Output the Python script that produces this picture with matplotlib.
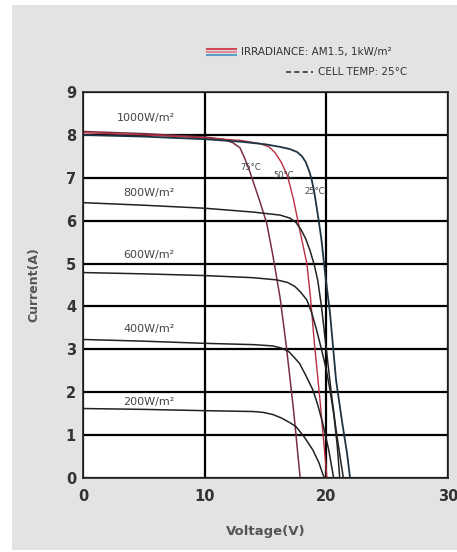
import matplotlib
matplotlib.use("Agg")
import matplotlib.pyplot as plt
from matplotlib.patches import Rectangle
from matplotlib.lines import Line2D

# I-V curves at 25C for different irradiance (voltage V, current A)
v_1000 = [0, 5, 10, 13, 15, 16.2, 17.0, 17.6, 18.0, 18.3, 18.6, 18.8, 19.0, 19.2, 19.4,
          19.6, 19.9, 20.3, 20.8, 21.3, 21.7, 21.95]
i_1000 = [8.0, 7.96, 7.9, 7.84, 7.78, 7.72, 7.67, 7.6, 7.5, 7.37, 7.15, 6.95, 6.68, 6.32, 5.95,
          5.55, 4.77, 3.85, 2.28, 1.3, 0.58, 0.0]

v_800 = [0, 5, 10, 14, 16.2, 17.0, 17.5, 17.9, 18.3, 18.65, 19.0, 19.3, 19.6, 20.0, 20.4,
         20.8, 21.1, 21.4]
i_800 = [6.42, 6.36, 6.29, 6.2, 6.13, 6.06, 5.96, 5.8, 5.58, 5.31, 4.98, 4.6, 4.0, 3.0, 2.0,
         1.12, 0.55, 0.0]

v_600 = [0, 5, 10, 14, 15.9, 16.8, 17.4, 17.9, 18.4, 18.8, 19.2, 19.6, 20.0, 20.3, 20.6,
         20.9, 21.1]
i_600 = [4.79, 4.76, 4.72, 4.67, 4.62, 4.56, 4.47, 4.33, 4.15, 3.85, 3.45, 3.0, 2.52, 2.05, 1.51,
         0.75, 0.0]

v_400 = [0, 5, 10, 14, 15.6, 16.3, 16.9, 17.4, 17.8, 18.3, 18.9, 19.3, 19.7, 20.2, 20.6]
i_400 = [3.23, 3.19, 3.14, 3.11, 3.08, 3.03, 2.95, 2.8, 2.67, 2.4, 2.05, 1.7, 1.28, 0.65, 0.0]

v_200 = [0, 5, 10, 14, 14.8, 15.6, 16.3, 17.0, 17.5, 18.2, 18.9, 19.4, 19.7, 19.85]
i_200 = [1.62, 1.6, 1.57, 1.55, 1.53, 1.48, 1.4, 1.29, 1.2, 0.95, 0.65, 0.35, 0.1, 0.0]

# I-V curves at 1000 W/m2 for hotter cells
v_50c = [0, 5, 10, 13, 14.5, 15.3, 15.8, 16.3, 16.8, 17.3, 17.8, 18.4, 18.7, 19.0, 19.5, 20.05]
i_50c = [8.05, 8.0, 7.93, 7.87, 7.8, 7.72, 7.58, 7.36, 7.05, 6.5, 5.8, 5.0, 4.2, 3.2, 1.75, 0.0]

v_75c = [0, 5, 10, 11.5, 12.3, 12.9, 13.3, 13.7, 14.5, 15.1, 15.6, 16.2, 16.7, 17.3, 17.85]
i_75c = [8.08, 8.03, 7.95, 7.9, 7.82, 7.7, 7.45, 7.15, 6.48, 5.94, 5.2, 4.2, 3.1, 1.6, 0.0]

irr_labels = ["1000W/m²", "800W/m²", "600W/m²", "400W/m²", "200W/m²"]
irr_label_xy = [(5.2, 8.39), (5.4, 6.64), (5.4, 5.2), (5.4, 3.47), (5.4, 1.77)]
temp_labels = ["75°C", "50°C", "25°C"]
temp_label_xy = [(13.8, 7.25), (16.45, 7.06), (19.0, 6.67)]

W, H = 457, 552
fig = plt.figure(figsize=(W / 100, H / 100), dpi=100)
fig.patch.set_facecolor("white")
fig.patches.append(Rectangle((12 / W, 2 / H), (W - 12) / W, (H - 7) / H,
                             transform=fig.transFigure, facecolor="#e3e3e3",
                             edgecolor="none", zorder=-5))

ax = fig.add_axes([83 / W, (H - 478) / H, (448 - 83) / W, (478 - 92) / H])
ax.set_facecolor("white")
ax.set_xlim(0, 30)
ax.set_ylim(0, 9)
ax.set_xticks([0, 10, 20, 30])
ax.set_yticks(range(10))
ax.grid(True, color="black", linewidth=1.6)
ax.tick_params(length=0, labelsize=10.5, labelcolor="#333333")
ax.tick_params(axis="x", pad=8)
ax.tick_params(axis="y", pad=5)
for lab in ax.get_xticklabels() + ax.get_yticklabels():
    lab.set_fontweight("bold")
for s in ax.spines.values():
    s.set_color("#222222")
    s.set_linewidth(1.2)

ax.plot(v_75c, i_75c, color="#7a2e45", lw=1.1)
ax.plot(v_50c, i_50c, color="#b83040", lw=1.0)
for v, i in [(v_800, i_800), (v_600, i_600), (v_400, i_400), (v_200, i_200)]:
    ax.plot(v, i, color="#222222", lw=1.1)
ax.plot(v_1000, i_1000, color="#1d3445", lw=1.3)

for lab, (x, y) in zip(irr_labels, irr_label_xy):
    ax.text(x, y, lab, fontsize=8, color="#444444", ha="center", va="center")
for lab, (x, y) in zip(temp_labels, temp_label_xy):
    ax.text(x, y, lab, fontsize=6, color="#444444", ha="center", va="center")

ax.set_xlabel("Voltage(V)", fontsize=9.5, fontweight="bold", color="#555555", labelpad=15)
ax.set_ylabel("Current(A)", fontsize=9, fontweight="bold", color="#555555", labelpad=18)

# legend block at top
for dy, c in zip([-3, 0, 3], ["#d04858", "#e08a98", "#5aa0c8"]):
    y = (H - 52 - dy) / H
    fig.add_artist(Line2D([207 / W, 236 / W], [y, y], color=c, lw=1.5,
                          transform=fig.transFigure))
fig.text(241 / W, (H - 52) / H, "IRRADIANCE: AM1.5, 1kW/m²", fontsize=7.5,
         color="#333333", va="center")
fig.add_artist(Line2D([286 / W, 313 / W], [(H - 72) / H] * 2, color="#333333",
                      lw=1.2, ls=(0, (3, 2)), transform=fig.transFigure))
fig.text(318 / W, (H - 72) / H, "CELL TEMP: 25°C", fontsize=7.5,
         color="#333333", va="center")

fig.savefig("out.png", dpi=100)
